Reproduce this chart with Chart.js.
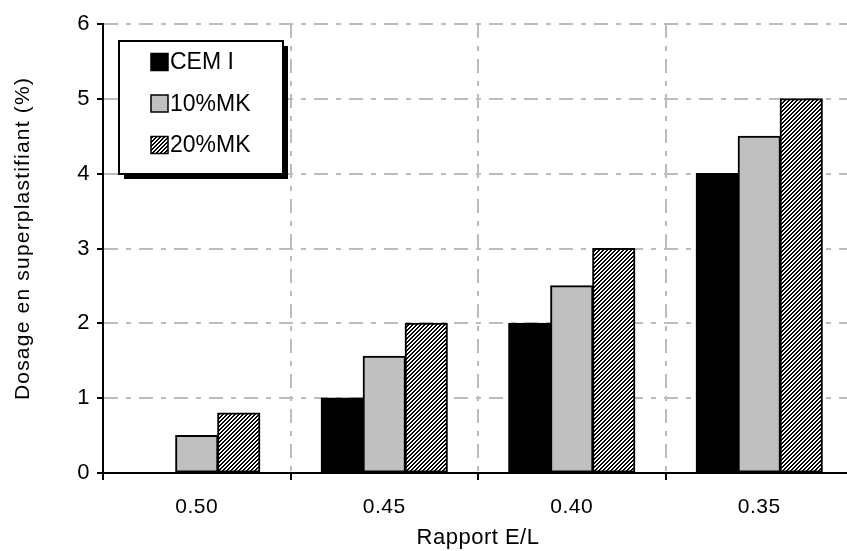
<!DOCTYPE html>
<html>
<head>
<meta charset="utf-8">
<script src="https://cdn.jsdelivr.net/npm/chart.js@4.4.1/dist/chart.umd.min.js"></script>
<style>
  html, body { margin: 0; padding: 0; background: #fff; overflow: hidden; }
  #wrap { position: relative; width: 860px; height: 551px; }
</style>
</head>
<body>
<div id="wrap"><canvas id="c"></canvas></div>
<script>
// Water/binder ratio categories and superplasticizer dosage per binder
const categories = ['0.50', '0.45', '0.40', '0.35'];
const seriesNames = ['CEM I', '10%MK', '20%MK'];
const cemI = [0, 1, 2, 4];
const mk10 = [0.5, 1.56, 2.5, 4.5];
const mk20 = [0.8, 2, 3, 5];
const yTicks = [0, 1, 2, 3, 4, 5, 6];
const xTitle = 'Rapport E/L';
const yTitle = 'Dosage en superplastifiant (%)';

const FONT = '"Liberation Sans", Arial, sans-serif';
const SPACING = '0.5px';
const GRID_DASH = [14, 8, 5, 8];

// Diagonal "////" hatch fill, drawn pixel by pixel for crisp stripes
function hatchPattern() {
  const s = 4;
  const c = document.createElement('canvas');
  c.width = s; c.height = s;
  const g = c.getContext('2d');
  g.fillStyle = '#fff';
  g.fillRect(0, 0, s, s);
  g.fillStyle = '#000';
  for (let px = 0; px < s; px++) {
    for (let py = 0; py < s; py++) {
      const k = (px + py) % s;
      if (k === 0 || k === 1) g.fillRect(px, py, 1, 1);
    }
  }
  return g.createPattern(c, 'repeat');
}
const hatch = hatchPattern();

// Text tracking applied to measurement and drawing
const tracking = {
  id: 'tracking',
  beforeLayout(chart) { chart.ctx.letterSpacing = SPACING; },
  beforeDraw(chart) { chart.ctx.letterSpacing = SPACING; }
};

// Vertical value-axis title
const yAxisTitle = {
  id: 'yAxisTitle',
  afterDraw(chart) {
    const ctx = chart.ctx;
    const a = chart.chartArea;
    ctx.save();
    ctx.letterSpacing = '1.2px';
    ctx.translate(23, (a.top + a.bottom) / 2 - 10);
    ctx.rotate(-Math.PI / 2);
    ctx.font = '21px ' + FONT;
    ctx.fillStyle = '#000';
    ctx.textAlign = 'center';
    ctx.textBaseline = 'middle';
    ctx.fillText(yTitle, 0, 0);
    ctx.restore();
  }
};

// Framed legend with drop shadow inside the plot area
const boxLegend = {
  id: 'boxLegend',
  afterDatasetsDraw(chart) {
    const ctx = chart.ctx;
    const a = chart.chartArea;
    const x = a.left + 16, y = a.top + 17, w = 164, h = 133, sh = 5;
    ctx.save();
    ctx.letterSpacing = '0px';
    ctx.fillStyle = '#000';
    ctx.fillRect(x + sh, y + sh, w, h);
    ctx.fillStyle = '#fff';
    ctx.fillRect(x, y, w, h);
    ctx.lineWidth = 2;
    ctx.strokeStyle = '#000';
    ctx.strokeRect(x, y, w, h);
    ctx.font = '23px ' + FONT;
    ctx.textBaseline = 'middle';
    ctx.textAlign = 'left';
    chart.data.datasets.forEach((ds, i) => {
      const cy = y + 21 + i * 41.5;
      const mx = x + 32, m = 17;
      ctx.fillStyle = ds.backgroundColor;
      ctx.fillRect(mx, cy - m / 2, m, m);
      ctx.lineWidth = 1.5;
      ctx.strokeStyle = '#000';
      ctx.strokeRect(mx, cy - m / 2, m, m);
      ctx.fillStyle = '#000';
      ctx.fillText(ds.label, mx + m + 2, cy + 1);
    });
    ctx.restore();
  }
};

new Chart(document.getElementById('c'), {
  type: 'bar',
  data: {
    labels: categories,
    datasets: [
      { label: seriesNames[0], data: cemI, backgroundColor: '#000000' },
      { label: seriesNames[1], data: mk10, backgroundColor: '#c0c0c0' },
      { label: seriesNames[2], data: mk20, backgroundColor: hatch }
    ].map(d => Object.assign(d, { borderColor: '#000', borderWidth: 2, borderSkipped: false, inflateAmount: 0.6 }))
  },
  options: {
    responsive: true,
    maintainAspectRatio: false,
    animation: false,
    events: [],
    categoryPercentage: 0.672,
    barPercentage: 1,
    layout: { padding: { top: 24, right: 7, bottom: 0, left: 0 } },
    plugins: { legend: { display: false }, tooltip: { enabled: false } },
    scales: {
      x: {
        grid: { offset: true, color: '#bcbcbc', lineWidth: 2, tickColor: '#000', tickWidth: 2, tickLength: 7, tickBorderDash: [] },
        border: { color: '#000', width: 2, dash: GRID_DASH },
        ticks: { color: '#000', font: { family: FONT, size: 21 }, padding: 15 },
        title: { display: true, text: xTitle, color: '#000', font: { family: FONT, size: 22 }, padding: { top: 0, bottom: 0 } },
        afterFit(s) { s.height = 78; }
      },
      y: {
        min: 0,
        max: 6,
        afterBuildTicks(s) { s.ticks = yTicks.map(v => ({ value: v })); },
        grid: { color: '#bcbcbc', lineWidth: 2, tickColor: '#000', tickWidth: 2, tickLength: 6, tickBorderDash: [] },
        border: { color: '#000', width: 2, dash: GRID_DASH },
        ticks: { color: '#000', font: { family: FONT, size: 22 }, padding: 7 },
        title: { display: false },
        afterFit(s) { s.width = 103; }
      }
    }
  },
  plugins: [tracking, yAxisTitle, boxLegend]
});
</script>
</body>
</html>
